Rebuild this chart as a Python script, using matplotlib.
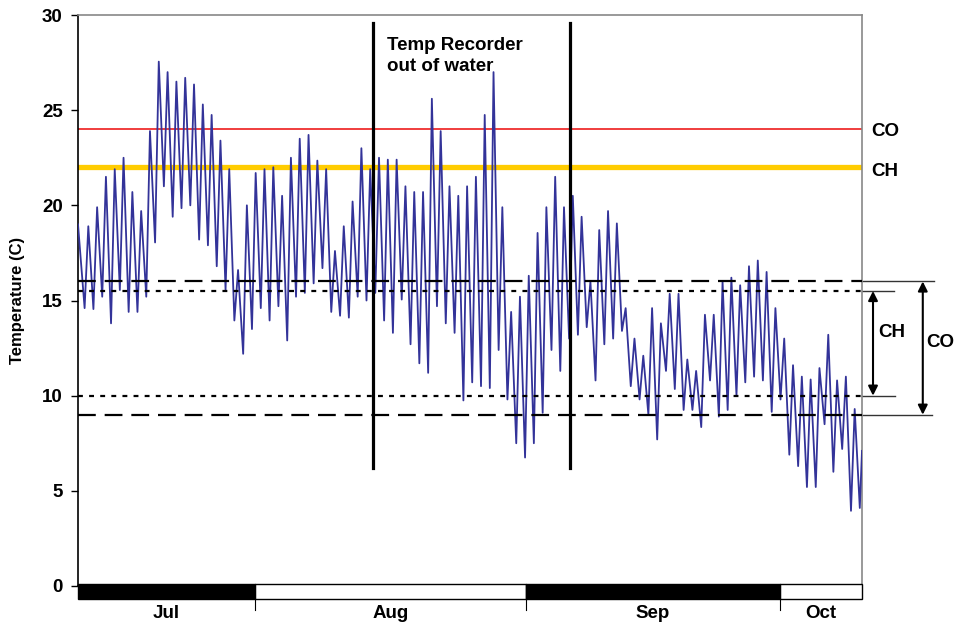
import numpy as np
import matplotlib
matplotlib.use('Agg')
import matplotlib.pyplot as plt
from matplotlib.patches import Rectangle

plt.rcParams['font.family'] = ['Liberation Sans', 'DejaVu Sans']
plt.rcParams['font.weight'] = 'bold'

# ---- data (days since start of record, deg C) ----
# daily minimum (night) for day 0..88
day_min = [14.6, 14.55, 15.2, 13.8, 15.55, 14.4, 14.4, 15.2, 18.05, 21.0,
           19.4, 19.85, 20.0, 18.2, 17.9, 16.8, 15.55, 13.95, 12.2, 13.5,
           14.6, 13.95, 14.7, 12.9, 15.2, 15.4, 15.9, 16.7, 14.4, 14.2,
           14.1, 15.2, 15.0, 15.4, 13.95, 13.3, 15.05, 12.7, 11.7, 11.2,
           14.7, 13.8, 13.3, 9.75, 10.7, 10.5, 10.4, 12.4, 9.8, 7.5,
           6.75, 7.5, 9.1, 12.4, 11.3, 13.0, 13.2, 13.6, 10.8, 12.7,
           13.0, 13.4, 10.5, 9.8, 9.0, 7.7, 11.3, 10.35, 9.25, 9.25,
           8.35, 10.8, 8.9, 9.25, 10.0, 10.7, 11.0, 10.8, 9.15, 9.8,
           6.9, 6.3, 5.2, 5.2, 8.5, 6.0, 7.2, 3.95, 4.1]
# daily maximum (afternoon) for day 1..88
day_max = [18.9, 19.9, 21.5, 21.9, 22.5, 20.7, 19.7, 23.9, 27.55, 27.0,
           26.5, 26.7, 26.35, 25.3, 24.75, 23.4, 21.9, 16.6, 20.0, 21.7,
           21.9, 22.0, 20.5, 22.5, 23.5, 23.7, 22.35, 21.9, 17.6, 18.9,
           20.2, 23.0, 21.9, 22.5, 22.4, 22.4, 21.0, 20.7, 20.7, 25.6,
           23.9, 21.0, 20.5, 21.0, 21.5, 24.75, 27.0, 19.9, 14.4, 15.2,
           16.3, 18.55, 19.9, 21.5, 19.9, 20.5, 19.4, 16.0, 18.7, 19.7,
           19.05, 14.6, 13.0, 12.1, 14.6, 13.8, 15.35, 15.35, 11.9, 11.3,
           14.25, 14.25, 16.0, 16.2, 15.8, 16.8, 17.1, 16.5, 14.6, 13.0,
           11.6, 11.0, 10.85, 11.45, 13.2, 10.8, 11.0, 9.3]
first_val, last_val = 19.0, 7.1
n_days = 89.0

months = ['Jul', 'Aug', 'Sep', 'Oct']
month_edges = [0, 20.1, 50.85, 79.7, 89.0]
month_fill = ['black', 'white', 'black', 'white']

out_of_water = [33.5, 55.85]

# criteria lines
co_max, ch_max = 24, 22
co_range = (9, 16)
ch_range = (10, 15.5)

# build the series: trough each morning, peak each afternoon
t = [0.0]
temp = [first_val]
for d in range(len(day_min)):
    t.append(d + 0.75)
    temp.append(day_min[d])
    if d < len(day_max):
        t.append(d + 1.17)
        temp.append(day_max[d])
t.append(n_days)
temp.append(last_val)

fig = plt.figure(figsize=(9.55, 6.26), dpi=100)
ax = fig.add_axes([78/955, 1-586/626, 784/955, 571/626])

ax.plot(t, temp, color='#333399', lw=1.3, zorder=3, solid_joinstyle='round')

ax.axhline(co_max, color='#ee1c1c', lw=1.2, zorder=2)
ax.axhline(ch_max, color='#ffcc00', lw=3.8, zorder=2)
for v in co_range:
    ax.axhline(v, color='black', lw=1.6, dashes=(8, 4), zorder=4)
for v in ch_range:
    ax.axhline(v, color='black', lw=1.6, dashes=(2.2, 2.8), zorder=4)

for xv in out_of_water:
    ax.plot([xv, xv], [6.2, 29.6], color='black', lw=2.3, zorder=5)
ax.text(35.05, 28.85, 'Temp Recorder\nout of water', fontsize=13.5,
        fontweight='bold', va='top', ha='left', linespacing=1.3)

ax.set_xlim(0, n_days)
ax.set_ylim(0, 30)
ax.set_yticks(np.arange(0, 31, 5))
ax.set_xticks([])
ax.tick_params(axis='y', direction='out', length=5, width=1, labelsize=13.5, pad=6)
for lab in ax.get_yticklabels():
    lab.set_fontweight('bold')
ax.set_ylabel('Temperature (C)', fontsize=12, fontweight='bold')
ax.yaxis.set_label_coords(-0.068, 0.5)
ax.spines['left'].set_color('black')
ax.spines['bottom'].set_color('black')
ax.spines['top'].set_color('#888888')
ax.spines['right'].set_color('#888888')
for s in ax.spines.values():
    s.set_linewidth(1.2)

# right hand criteria annotations
ext = [(co_range[1], 97.2), (ch_range[1], 92.6), (ch_range[0], 92.8), (co_range[0], 96.9)]
for yv, xe in ext:
    ax.plot([n_days, xe], [yv, yv], color='#333333', lw=1.0, clip_on=False)
ax.annotate('', xy=(90.25, ch_range[0]), xytext=(90.25, ch_range[1]),
            arrowprops=dict(arrowstyle='<|-|>', color='black', lw=1.5,
                            mutation_scale=14, shrinkA=0, shrinkB=0),
            annotation_clip=False)
ax.annotate('', xy=(95.9, co_range[0]), xytext=(95.9, co_range[1]),
            arrowprops=dict(arrowstyle='<|-|>', color='black', lw=1.5,
                            mutation_scale=14, shrinkA=0, shrinkB=0),
            annotation_clip=False)
ax.text(90.8, 13.3, 'CH', fontsize=13.5, fontweight='bold', va='center', ha='left', clip_on=False)
ax.text(96.3, 12.8, 'CO', fontsize=13.5, fontweight='bold', va='center', ha='left', clip_on=False)
ax.text(90.0, co_max - 0.1, 'CO', fontsize=13.5, fontweight='bold', va='center', ha='left', clip_on=False)
ax.text(90.0, ch_max - 0.2, 'CH', fontsize=13.5, fontweight='bold', va='center', ha='left', clip_on=False)

# month bar under the axis
axm = fig.add_axes([78/955, 1-599/626, 784/955, 15/626])
axm.set_xlim(0, n_days)
axm.set_ylim(0, 1)
axm.axis('off')
for i, m in enumerate(months):
    x0, x1 = month_edges[i], month_edges[i+1]
    axm.add_patch(Rectangle((x0, 0), x1 - x0, 1, facecolor=month_fill[i],
                            edgecolor='black', lw=1.0, clip_on=False))
    axm.text((x0 + x1) / 2, -0.95, m, fontsize=13.5, fontweight='bold',
             ha='center', va='center', clip_on=False)
for xe in month_edges[1:-1]:
    axm.plot([xe, xe], [1, -0.75], color='black', lw=0.8, clip_on=False)

fig.savefig('out.png', dpi=100)
